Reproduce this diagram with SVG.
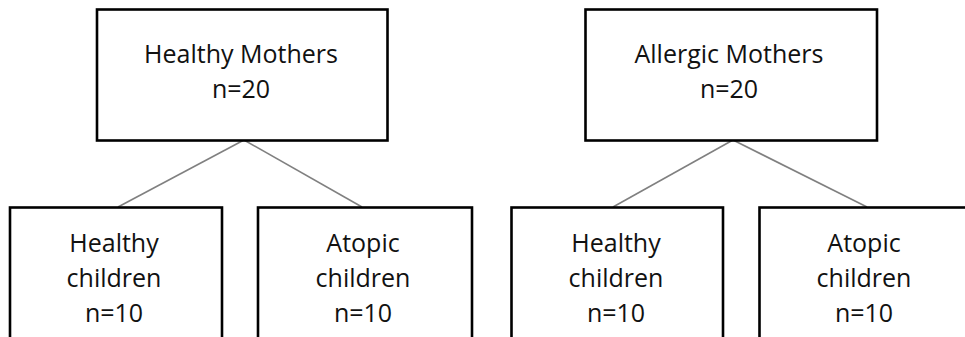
<svg xmlns="http://www.w3.org/2000/svg" width="965" height="337" viewBox="0 0 965 337">
<style>
.box{fill:#fff;stroke:#000;stroke-width:2.6}
.t{font-family:"Open Sans","Liberation Sans",sans-serif;font-size:25px;fill:#111;text-anchor:middle}
.c{stroke:#808080;stroke-width:1.6;fill:none}
</style>
<rect width="965" height="337" fill="#fff"/>
<g id="connectors">
<line class="c" x1="244" y1="140" x2="118" y2="207"/>
<line class="c" x1="244" y1="140" x2="362" y2="207"/>
<line class="c" x1="733" y1="140" x2="613" y2="207"/>
<line class="c" x1="733" y1="140" x2="867" y2="207"/>
</g>
<g id="healthy-mothers">
<rect class="box" x="97" y="9.5" width="290.5" height="131"/>
<text class="t" x="241" y="63">Healthy Mothers</text>
<text class="t" x="241" y="98">n=20</text>
</g>
<g id="allergic-mothers">
<rect class="box" x="585.5" y="9.5" width="291.5" height="131"/>
<text class="t" x="729" y="63">Allergic Mothers</text>
<text class="t" x="729" y="98">n=20</text>
</g>
<g id="hm-healthy-children">
<rect class="box" x="10" y="207.5" width="212" height="140"/>
<text class="t" x="114" y="252">Healthy</text>
<text class="t" x="114" y="287">children</text>
<text class="t" x="114" y="322">n=10</text>
</g>
<g id="hm-atopic-children">
<rect class="box" x="258" y="207.5" width="214" height="140"/>
<text class="t" x="363" y="252">Atopic</text>
<text class="t" x="363" y="287">children</text>
<text class="t" x="363" y="322">n=10</text>
</g>
<g id="am-healthy-children">
<rect class="box" x="511.5" y="207.5" width="211.5" height="140"/>
<text class="t" x="616" y="252">Healthy</text>
<text class="t" x="616" y="287">children</text>
<text class="t" x="616" y="322">n=10</text>
</g>
<g id="am-atopic-children">
<rect class="box" x="759.5" y="207.5" width="215" height="140"/>
<text class="t" x="864" y="252">Atopic</text>
<text class="t" x="864" y="287">children</text>
<text class="t" x="864" y="322">n=10</text>
</g>
</svg>
